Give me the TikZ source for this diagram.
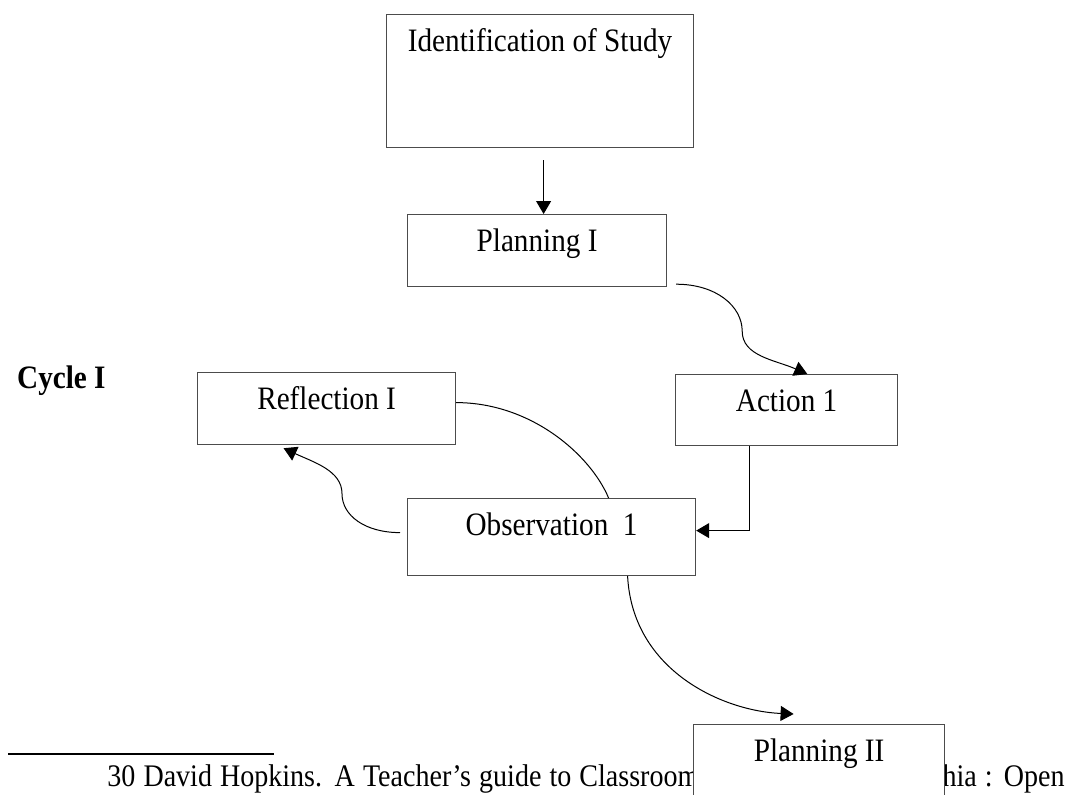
\documentclass[tikz,border=0pt]{standalone}
\usepackage{fontspec}
\setmainfont{Liberation Serif}[FakeStretch=0.893]
\usetikzlibrary{arrows.meta}
\begin{document}
\begin{tikzpicture}[x=0.5pt, y=-0.5pt,
    every node/.style={font=\fontsize{16.35}{19}\selectfont},
    flowbox/.style={draw=black!70, line width=0.6pt, fill=white, inner sep=0pt,
      anchor=north west, text height=18.5pt},
    arr/.style={-{Triangle[length=6.5pt,width=7.5pt]}, line width=0.5pt}]
  \useasboundingbox (0,0) rectangle (1077,794);

  % footnote (partly hidden by the last box)
  \draw[line width=1.1pt] (8,754) -- (274,754);
  \node[anchor=base west, inner sep=0pt, font=\fontsize{15.7}{19}\selectfont] (ref) at (107,786)
    {\makebox[296pt][s]{30 David Hopkins. A Teacher’s guide to Classroom}};
  \node[anchor=base east, inner sep=0pt, font=\fontsize{15.7}{19}\selectfont] (refend) at (1065,786)
    {\makebox[61pt][s]{hia : Open}};

  % boxes
  \node[flowbox, minimum width=153.5pt, text depth=48pt] (ident) at (386,14) {Identification of Study};
  \node[flowbox, minimum width=129.5pt, text depth=17.5pt] (plan1) at (407,214) {Planning I};
  \node[flowbox, minimum width=129pt, text depth=17.5pt] (refl) at (197,372) {Reflection I};
  \node[flowbox, minimum width=111pt, text depth=17pt] (act1) at (675,374) {Action 1};
  \node[flowbox, minimum width=144pt, text depth=20pt] (obs) at (407,498) {Observation~~1};
  \node[flowbox, minimum width=125.5pt, text depth=40pt] (plan2) at (693,724) {Planning II};

  % cycle label
  \node[anchor=base east, inner sep=0pt, font=\bfseries\fontsize{16.35}{19}\selectfont] (cycle) at (106,388) {Cycle I};

  % connectors
  \draw[arr] ([xshift=1.75pt,yshift=-6pt]ident.south) -- ([xshift=3.25pt]plan1.north);
  \draw[arr] ([xshift=4.5pt,yshift=1.5pt]plan1.south east) .. controls +(40,0) and +(0,-25) .. ++(66,47)
    .. controls +(0,25) and +(-32,-14) .. ([xshift=10.35pt]act1.north);
  \draw[arr] ([xshift=-18.5pt]act1.south) |- ([yshift=3.25pt]obs.east);
  \draw[line width=0.5pt] ([yshift=3pt]refl.east) .. controls +(75,0) and +(-18,-43) .. ([xshift=28.5pt]obs.north);
  \draw[arr] ([xshift=-3.5pt,yshift=2.25pt]obs.west) .. controls +(-35,0) and +(0,22) .. ++(-58,-39)
    .. controls +(0,-23) and +(30,14) .. ([xshift=-21.5pt,yshift=-1.5pt]refl.south);
  \draw[arr] ([xshift=38pt]obs.south) .. controls +(5,95) and +(-70,-3) .. ([xshift=-12.75pt,yshift=5pt]plan2.north);
\end{tikzpicture}
\end{document}
